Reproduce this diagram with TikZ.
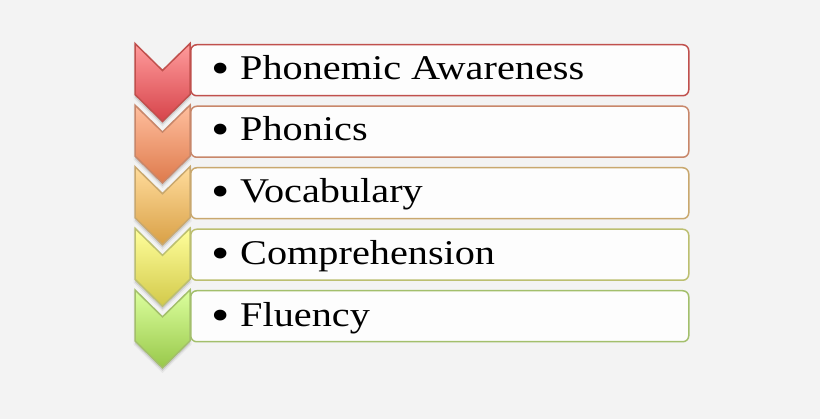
\documentclass[tikz,border=0pt]{standalone}
\usepackage{fontspec}
\setmainfont[FakeStretch=1.16]{Liberation Serif}
\definecolor{bg}{HTML}{F3F3F3}
\definecolor{boxfill}{HTML}{FDFDFD}
\definecolor{aT}{HTML}{FF9C9C}\definecolor{aB}{HTML}{D6434A}\definecolor{aL}{HTML}{C0504D}
\definecolor{bT}{HTML}{FFBF9E}\definecolor{bB}{HTML}{DE7A4C}\definecolor{bL}{HTML}{C8876A}
\definecolor{cT}{HTML}{FFDC9C}\definecolor{cB}{HTML}{D9A046}\definecolor{cL}{HTML}{C9A86E}
\definecolor{dT}{HTML}{FFFF9C}\definecolor{dB}{HTML}{D2C94A}\definecolor{dL}{HTML}{BCBF70}
\definecolor{eT}{HTML}{DCFF9E}\definecolor{eB}{HTML}{98C84A}\definecolor{eL}{HTML}{A3BF6C}
\tikzset{
  itembox/.style={draw=#1, line width=1.5pt, fill=boxfill, rounded corners=6pt,
    minimum width=498pt, minimum height=51pt, anchor=north west, inner sep=0pt},
  itemtext/.style={anchor=base west, inner sep=0pt, font=\fontsize{34.7}{40}\selectfont},
  chevshadow/.style={fill=black, fill opacity=0.10, draw=black, draw opacity=0.05, line width=3pt},
}
\newcommand{\bul}{\makebox[29pt][l]{\raisebox{-4pt}{\scalebox{1.3}{•}}}}
\newcommand{\chevpath}[1]{(135,#1) -- (162.5,#1+27) -- (190,#1) -- (190,#1+51) -- (162.5,#1+78) -- (135,#1+51) -- cycle}
\newcommand{\mychev}[4]{%
  \path[chevshadow] [yshift=-3pt] \chevpath{#1};
  \path[draw=#4, line width=1.5pt, top color=#2, bottom color=#3, line join=miter] \chevpath{#1};
}
\begin{document}
\begin{tikzpicture}[x=1pt,y=-1pt]
\useasboundingbox[fill=bg] (0,0) rectangle (820,419);
% chevrons, bottom first so upper ones overlap
\mychev{289.9}{eT}{eB}{eL}
\mychev{228.3}{dT}{dB}{dL}
\mychev{166.7}{cT}{cB}{cL}
\mychev{105.1}{bT}{bB}{bL}
\mychev{43.5}{aT}{aB}{aL}
% boxes
\node[itembox=aL] (b1) at (190,44) {};
\node[itembox=bL] (b2) at (190,105.5) {};
\node[itembox=cL] (b3) at (190,167) {};
\node[itembox=dL] (b4) at (190,228.5) {};
\node[itembox=eL] (b5) at (190,290) {};
% texts
\node[itemtext] (t1) at (211,80) {\bul Phonemic Awareness};
\node[itemtext] (t2) at (211,141) {\bul Phonics};
\node[itemtext] (t3) at (211,203) {\bul Vocabulary};
\node[itemtext] (t4) at (211,265) {\bul Comprehension};
\node[itemtext] (t5) at (211,327) {\bul Fluency};
\end{tikzpicture}
\end{document}
